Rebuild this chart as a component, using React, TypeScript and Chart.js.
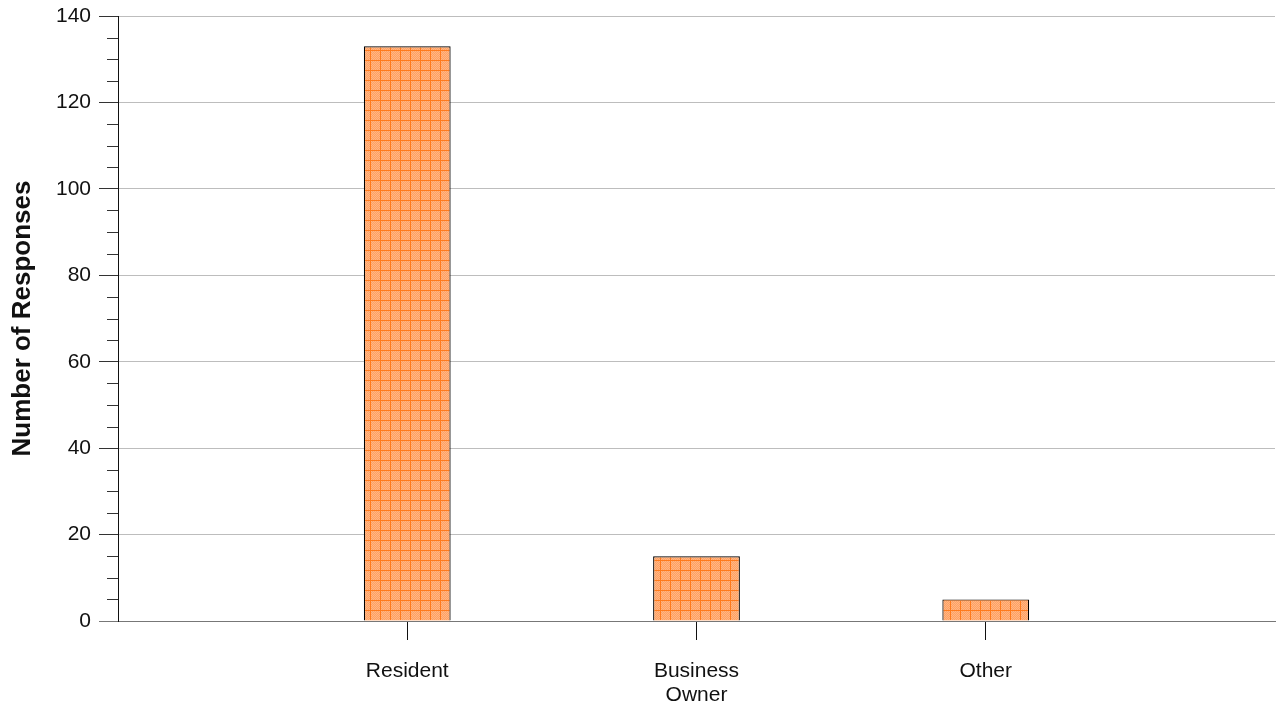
import React, { useEffect, useRef } from "react";
import { Chart, registerables } from "chart.js";

Chart.register(...registerables);

const categories: (string | string[])[] = ["Resident", ["Business", "Owner"], "Other"];
const responses: number[] = [133, 15, 5];
const yMax = 140;
const yMajorStep = 20;
const yMinorStep = 5;
const yTitle = "Number of Responses";

const FONT = "Liberation Sans, Arial, sans-serif";

function makePattern(): CanvasPattern | string {
  const c = document.createElement("canvas");
  c.width = 10;
  c.height = 10;
  const g = c.getContext("2d");
  if (!g) return "#ffaa70";
  for (let y = 0; y < 10; y++) {
    for (let x = 0; x < 10; x++) {
      g.fillStyle = (x + y) % 2 === 0 ? "#ffb684" : "#ffa062";
      g.fillRect(x, y, 1, 1);
    }
  }
  g.fillStyle = "#ff7a1c";
  g.fillRect(0, 0, 10, 1);
  g.fillRect(0, 0, 1, 10);
  const p = g.createPattern(c, "repeat");
  return p || "#ffaa70";
}

const minorTicks = {
  id: "minorTicks",
  afterDraw(chart: any) {
    const y = chart.scales.y;
    const ctx = chart.ctx;
    ctx.save();
    ctx.strokeStyle = "#333";
    ctx.lineWidth = 1;
    for (let v = 0; v <= yMax; v += yMinorStep) {
      if (v % yMajorStep === 0) continue;
      const py = Math.round(y.getPixelForValue(v)) + 0.5;
      ctx.beginPath();
      ctx.moveTo(y.right - 11, py);
      ctx.lineTo(y.right, py);
      ctx.stroke();
    }
    ctx.restore();
  },
};

export default function App() {
  const ref = useRef<HTMLCanvasElement>(null);
  useEffect(() => {
    if (!ref.current) return;
    const labels = ["", ...categories, ""];
    const data = [null, ...responses, null];
    const n = labels.length;
    const chart = new Chart(ref.current, {
      type: "bar",
      data: {
        labels,
        datasets: [
          {
            data: data as any,
            backgroundColor: makePattern() as any,
            borderColor: "#000",
            borderWidth: 1.2,
            borderSkipped: "bottom",
            barPercentage: 0.3,
            categoryPercentage: 1,
          },
        ],
      },
      options: {
        animation: false,
        responsive: false,
        maintainAspectRatio: false,
        layout: { padding: { top: 16, right: 5, left: 0, bottom: 0 } },
        plugins: { legend: { display: false }, tooltip: { enabled: false } },
        scales: {
          x: {
            offset: false,
            grid: {
              offset: false,
              drawOnChartArea: false,
              drawTicks: true,
              tickLength: 19,
              tickColor: (c: any) => (c.index >= 1 && c.index <= n - 2 ? "#111" : "rgba(0,0,0,0)"),
            },
            border: { color: "#777", width: 1 },
            ticks: {
              color: "#111",
              font: { family: FONT, size: 21, lineHeight: 1.15 },
              padding: 19,
              maxRotation: 0,
              autoSkip: false,
            },
            afterFit: (s: any) => {
              s.height = 87;
              s.paddingLeft = 0;
              s.paddingRight = 0;
            },
          },
          y: {
            min: 0,
            max: yMax,
            grid: {
              color: (c: any) => (c.tick && c.tick.value === 0 ? "#777" : "#bdbdbd"),
              tickColor: (c: any) => (c.tick && c.tick.value === 0 ? "#777" : "#333"),
              tickLength: 19,
            },
            border: { color: "#111", width: 1 },
            ticks: {
              stepSize: yMajorStep,
              color: "#111",
              font: { family: FONT, size: 21 },
              padding: 8,
            },
            title: {
              display: true,
              text: yTitle,
              color: "#111",
              font: { family: FONT, size: 26, weight: "bold" },
              padding: { top: 7, bottom: 0 },
            },
            afterFit: (s: any) => {
              s.width = 118;
              s.paddingTop = 0;
              s.paddingBottom = 0;
            },
          },
        },
      },
      plugins: [minorTicks],
    });
    return () => chart.destroy();
  }, []);
  return (
    <div style={{ position: "fixed", left: 0, top: 0, width: 1280, height: 708, background: "#fff" }}>
      <canvas ref={ref} width={1280} height={708} style={{ display: "block" }} />
    </div>
  );
}
